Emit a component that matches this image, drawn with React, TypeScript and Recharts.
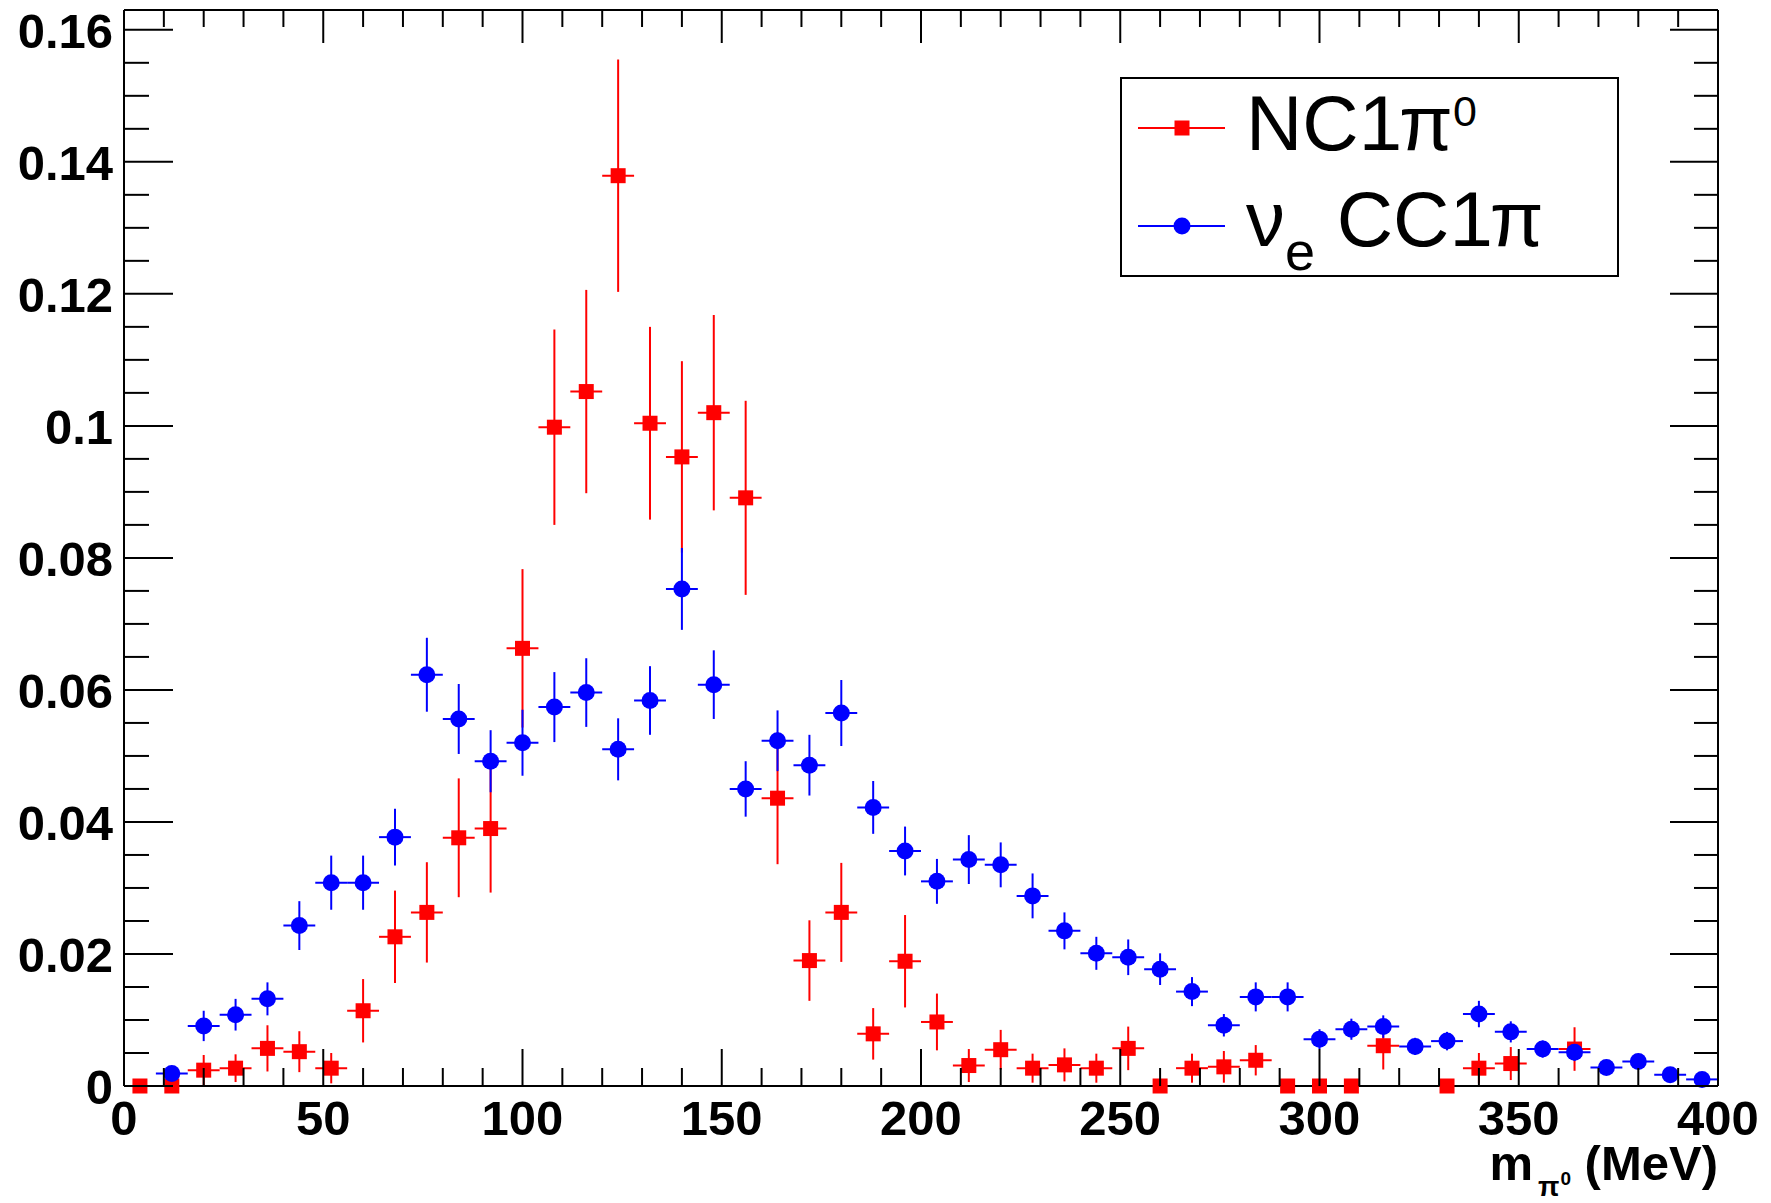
import React from 'react';
import { ScatterChart, Scatter, XAxis, YAxis, ErrorBar, Legend } from 'recharts';

// ---------- data ----------
const binCenters = [
  4, 12, 20, 28, 36, 44, 52, 60, 68, 76,
  84, 92, 100, 108, 116, 124, 132, 140, 148, 156,
  164, 172, 180, 188, 196, 204, 212, 220, 228, 236,
  244, 252, 260, 268, 276, 284, 292, 300, 308, 316,
  324, 332, 340, 348, 356, 364, 372, 380, 388, 396,
];
const binHalfWidth = 4;

const nc1pi0Values: (number | null)[] = [
  0, 0, 0.0024, 0.0027, 0.0057, 0.0052, 0.0027, 0.0114, 0.0226, 0.0263,
  0.0376, 0.039, 0.0663, 0.0998, 0.1052, 0.1379, 0.1004, 0.0953, 0.102, 0.0891,
  0.0436, 0.019, 0.0263, 0.0079, 0.0189, 0.0097, 0.0031, 0.0055, 0.0027, 0.0032,
  0.0027, 0.0057, 0, 0.0027, 0.0029, 0.0039, 0, 0, 0, 0.0061,
  null, 0, 0.0027, 0.0034, null, 0.0056, null, null, null, null,
];
const nc1pi0Errors: (number | null)[] = [
  0, 0, 0.0023, 0.0021, 0.0035, 0.0031, 0.0023, 0.0048, 0.007, 0.0076,
  0.009, 0.0097, 0.012, 0.0148, 0.0154, 0.0176, 0.0146, 0.0145, 0.0148, 0.0147,
  0.01, 0.0061, 0.0075, 0.0039, 0.007, 0.0043, 0.0025, 0.003, 0.0022, 0.0025,
  0.0022, 0.0033, 0, 0.0022, 0.0024, 0.0023, 0, 0, 0, 0.0036,
  null, 0, 0.0023, 0.0025, null, 0.0033, null, null, null, null,
];

const nueCC1piValues: (number | null)[] = [
  null, 0.0019, 0.0091, 0.0108, 0.0132, 0.0243, 0.0308, 0.0308, 0.0377, 0.0623,
  0.0556, 0.0492, 0.052, 0.0574, 0.0596, 0.051, 0.0584, 0.0753, 0.0608, 0.045,
  0.0523, 0.0486, 0.0565, 0.0422, 0.0356, 0.031, 0.0343, 0.0335, 0.0288, 0.0235,
  0.0201, 0.0195, 0.0177, 0.0143, 0.0092, 0.0135, 0.0135, 0.0071, 0.0086, 0.009,
  0.006, 0.0068, 0.0109, 0.0082, 0.0056, 0.0051, 0.0028, 0.0037, 0.0017, 0.001,
];
const nueCC1piErrors: (number | null)[] = [
  null, 0.001, 0.0023, 0.0024, 0.0025, 0.0037, 0.0041, 0.0041, 0.0043, 0.0056,
  0.0053, 0.0047, 0.005, 0.0053, 0.0052, 0.0047, 0.0052, 0.0062, 0.0052, 0.0042,
  0.0046, 0.0046, 0.005, 0.004, 0.0037, 0.0034, 0.0037, 0.0034, 0.0034, 0.0028,
  0.0025, 0.0027, 0.0024, 0.0022, 0.0017, 0.0022, 0.0022, 0.0015, 0.0016, 0.0017,
  0.0013, 0.0014, 0.002, 0.0016, 0.0013, 0.0013, 0.001, 0.0011, 0.0008, 0.0006,
];

const xTickValues = [
  0, 10, 20, 30, 40, 50, 60, 70, 80, 90, 100, 110, 120, 130, 140, 150, 160, 170, 180, 190,
  200, 210, 220, 230, 240, 250, 260, 270, 280, 290, 300, 310, 320, 330, 340, 350, 360, 370,
  380, 390, 400,
];
const xMajorTicks = [0, 50, 100, 150, 200, 250, 300, 350, 400];
const yTickValues = [
  0, 0.005, 0.01, 0.015, 0.02, 0.025, 0.03, 0.035, 0.04, 0.045, 0.05, 0.055, 0.06, 0.065,
  0.07, 0.075, 0.08, 0.085, 0.09, 0.095, 0.1, 0.105, 0.11, 0.115, 0.12, 0.125, 0.13, 0.135,
  0.14, 0.145, 0.15, 0.155, 0.16,
];
const yMajorTicks = [0, 0.02, 0.04, 0.06, 0.08, 0.1, 0.12, 0.14, 0.16];
const xDomain = [0, 400];
const yDomain = [0, 0.163];

const seriesNames = { red: 'NC1π0', blue: 'νe CC1π' };

// ---------- helpers ----------
function buildPoints(values: (number | null)[], errors: (number | null)[]) {
  const pts: { x: number; y: number; ex: number; ey: number }[] = [];
  binCenters.forEach((x, i) => {
    const v = values[i];
    if (v !== null && v !== undefined) {
      pts.push({ x, y: v, ex: binHalfWidth, ey: errors[i] ?? 0 });
    }
  });
  return pts;
}

const redPoints = buildPoints(nc1pi0Values, nc1pi0Errors);
const bluePoints = buildPoints(nueCC1piValues, nueCC1piErrors);

const FONT = '"Liberation Sans", Arial, Helvetica, sans-serif';
const RED = '#ff0000';
const BLUE = '#0000ff';

// ---------- ticks (ROOT style: inward) ----------
const BottomTick = (props: any) => {
  const { x, y, payload } = props;
  const major = xMajorTicks.includes(payload.value);
  return (
    <g>
      <line x1={x} y1={y} x2={x} y2={y - (major ? 37 : 18)} stroke="#000" strokeWidth={2} />
      {major && (
        <text x={x} y={y + 49} textAnchor="middle" fontFamily={FONT} fontWeight="bold" fontSize={49} fill="#000">
          {String(payload.value)}
        </text>
      )}
    </g>
  );
};

const TopTick = (props: any) => {
  const { x, y, payload } = props;
  const major = xMajorTicks.includes(payload.value);
  return <line x1={x} y1={y} x2={x} y2={y + (major ? 33 : 17)} stroke="#000" strokeWidth={2} />;
};

const LeftTick = (props: any) => {
  const { x, y, payload } = props;
  const major = yMajorTicks.includes(payload.value);
  return (
    <g>
      <line x1={x} y1={y} x2={x + (major ? 49 : 25)} y2={y} stroke="#000" strokeWidth={2} />
      {major && (
        <text x={x - 11} y={y + 18} textAnchor="end" fontFamily={FONT} fontWeight="bold" fontSize={49} fill="#000">
          {String(payload.value)}
        </text>
      )}
    </g>
  );
};

const RightTick = (props: any) => {
  const { x, y, payload } = props;
  const major = yMajorTicks.includes(payload.value);
  return <line x1={x} y1={y} x2={x - (major ? 48 : 24)} y2={y} stroke="#000" strokeWidth={2} />;
};

const XTitle = (props: any) => {
  const vb = props.viewBox || { x: 124, y: 1086, width: 1594, height: 117 };
  return (
    <text
      x={vb.x + vb.width}
      y={vb.y + 94}
      textAnchor="end"
      fontFamily={FONT}
      fontWeight="bold"
      fontSize={49}
      fill="#000"
    >
      m
      <tspan dx={5} dy={16} fontSize={28}>π</tspan>
      <tspan dx={1} dy={-11} fontSize={19}>0</tspan>
      <tspan dy={-5} fontSize={49}> (MeV)</tspan>
    </text>
  );
};

// ---------- markers ----------
const SquareMarker = (props: any) => {
  const { cx, cy } = props;
  if (cx == null || cy == null) return null;
  return <rect x={cx - 7.5} y={cy - 7.5} width={15} height={15} fill={RED} />;
};
const CircleMarker = (props: any) => {
  const { cx, cy } = props;
  if (cx == null || cy == null) return null;
  return <circle cx={cx} cy={cy} r={8.5} fill={BLUE} />;
};
const NoMarker = () => null;

// ---------- legend ----------
const LegendBox = () => (
  <svg width={500} height={230} style={{ display: 'block', overflow: 'visible' }}>
    <rect x={1} y={1} width={497} height={198} fill="#fff" stroke="#000" strokeWidth={2} />
    <line x1={18} x2={105} y1={51} y2={51} stroke={RED} strokeWidth={2} />
    <rect x={62 - 7.5} y={51 - 7.5} width={15} height={15} fill={RED} />
    <text x={126} y={73} fontFamily={FONT} fontSize={78} fill="#000">
      NC1<tspan dx={-3}>π</tspan>
      <tspan dy={-24} fontSize={43}>0</tspan>
    </text>
    <line x1={18} x2={105} y1={149} y2={149} stroke={BLUE} strokeWidth={2} />
    <circle cx={62} cy={149} r={8.5} fill={BLUE} />
    <text x={126} y={169} fontFamily={FONT} fontSize={78} fill="#000">
      ν<tspan dy={24} fontSize={54}>e</tspan>
      <tspan dy={-24}> CC1</tspan>
      <tspan dx={-3}>π</tspan>
    </text>
  </svg>
);

export default function App() {
  return (
    <div style={{ position: 'absolute', left: 0, top: 0, width: 1771, height: 1203, background: '#fff' }}>
      <ScatterChart width={1771} height={1203} margin={{ top: 9, right: 52, bottom: 0, left: 0 }}>
        <XAxis
          xAxisId="b"
          type="number"
          dataKey="x"
          orientation="bottom"
          domain={xDomain}
          ticks={xTickValues}
          interval={0}
          height={117}
          tickSize={0}
          tickMargin={0}
          tickLine={false}
          axisLine={{ stroke: '#000', strokeWidth: 2 }}
          tick={<BottomTick />}
          label={<XTitle />}
        />
        <XAxis
          xAxisId="t"
          type="number"
          dataKey="x"
          orientation="top"
          domain={xDomain}
          allowDataOverflow
          ticks={xTickValues}
          interval={0}
          height={1}
          tickSize={0}
          tickMargin={0}
          tickLine={false}
          axisLine={{ stroke: '#000', strokeWidth: 2 }}
          tick={<TopTick />}
        />
        <YAxis
          yAxisId="l"
          type="number"
          dataKey="y"
          orientation="left"
          domain={yDomain}
          ticks={yTickValues}
          interval={0}
          width={124}
          tickSize={0}
          tickMargin={0}
          tickLine={false}
          axisLine={{ stroke: '#000', strokeWidth: 2 }}
          tick={<LeftTick />}
        />
        <YAxis
          yAxisId="r"
          type="number"
          dataKey="y"
          orientation="right"
          domain={yDomain}
          allowDataOverflow
          ticks={yTickValues}
          interval={0}
          width={1}
          tickSize={0}
          tickMargin={0}
          tickLine={false}
          axisLine={{ stroke: '#000', strokeWidth: 2 }}
          tick={<RightTick />}
        />
        {/* invisible series that anchors the mirrored top/right frame axes */}
        <Scatter
          name="frame"
          data={bluePoints}
          xAxisId="t"
          yAxisId="r"
          shape={<NoMarker />}
          legendType="none"
          isAnimationActive={false}
        />
        <Scatter
          name={seriesNames.red}
          data={redPoints}
          xAxisId="b"
          yAxisId="l"
          fill={RED}
          shape={<SquareMarker />}
          isAnimationActive={false}
        >
          <ErrorBar dataKey="ex" direction="x" width={0} stroke={RED} strokeWidth={2} isAnimationActive={false} />
          <ErrorBar dataKey="ey" direction="y" width={0} stroke={RED} strokeWidth={2} isAnimationActive={false} />
        </Scatter>
        <Scatter
          name={seriesNames.blue}
          data={bluePoints}
          xAxisId="b"
          yAxisId="l"
          fill={BLUE}
          shape={<CircleMarker />}
          isAnimationActive={false}
        >
          <ErrorBar dataKey="ex" direction="x" width={0} stroke={BLUE} strokeWidth={2} isAnimationActive={false} />
          <ErrorBar dataKey="ey" direction="y" width={0} stroke={BLUE} strokeWidth={2} isAnimationActive={false} />
        </Scatter>
        <Legend
          layout="vertical"
          align="center"
          verticalAlign="middle"
          wrapperStyle={{ position: 'absolute', left: 1120, top: 77, width: 500, height: 230 }}
          content={() => <LegendBox />}
        />
      </ScatterChart>
    </div>
  );
}
